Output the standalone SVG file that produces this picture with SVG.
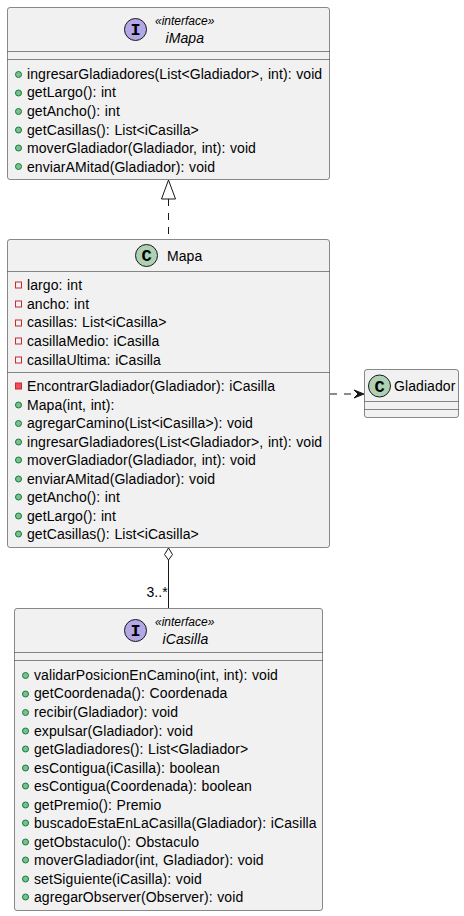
<svg xmlns="http://www.w3.org/2000/svg" width="464" height="916" viewBox="0 0 464 916">
<style>
.box{fill:#F1F1F1;stroke:#181818;stroke-width:.5}
.sep{stroke:#181818;stroke-width:.5}
text{font-family:"Liberation Sans",Arial,sans-serif;font-size:14px;fill:#000;letter-spacing:.08px;word-spacing:.6px}
.it{font-style:italic}
.st{font-style:italic;font-size:12px;letter-spacing:0;word-spacing:0}
.sp{fill:#ADD1B2;stroke:#181818;stroke-width:1}
.si{fill:#B4A7E5;stroke:#181818;stroke-width:1}
.gl{font-family:"Liberation Mono",monospace;font-weight:bold;font-size:17px;text-anchor:middle;letter-spacing:0}
.pub{fill:#84BE84;stroke:#038048;stroke-width:1}
.pri{fill:none;stroke:#C82930;stroke-width:1}
.prm{fill:#F24D5C;stroke:#C82930;stroke-width:1}
.ln{fill:none;stroke:#181818;stroke-width:1}
</style>
<defs>
<circle id="pu" class="pub" r="3"/>
<rect id="pr" class="pri" width="6" height="6"/>
<rect id="pm" class="prm" width="6" height="6"/>
</defs>
<g id="connectors">
<path class="ln" stroke-dasharray="7,7" d="M168.500,199 L168.500,239"/>
<polygon points="168.500,180 161.500,199 175.500,199" fill="none" stroke="#181818"/>
<path class="ln" stroke-dasharray="7,7" d="M330,394 L358,394"/>
<polygon points="364,394 354,390 358,394 354,398" fill="#181818" stroke="#181818"/>
<path class="ln" d="M168.500,608 L168.500,560"/>
<polygon points="168.500,548 164.500,554.500 168.500,560 172.500,554.500" fill="#fff" stroke="#181818"/>
<text x="146.500" y="597">3..*</text>
</g>
<g id="iMapa">
<rect class="box" x="7.500" y="7.500" width="322" height="172" rx="2.500"/>
<circle class="si" cx="135.500" cy="29.500" r="11"/>
<text class="gl" x="135.500" y="35">I</text>
<text class="st" x="155" y="25">«interface»</text>
<text class="it" x="165.500" y="43">iMapa</text>
<path class="sep" d="M7.500,51.500H329.500M7.500,59.500H329.500"/>
<use href="#pu" x="18.500" y="74.500"/><text x="27" y="79">ingresarGladiadores(List&lt;Gladiador&gt;, int): void</text>
<use href="#pu" x="18.500" y="93"/><text x="27" y="97">getLargo(): int</text>
<use href="#pu" x="18.500" y="111.500"/><text x="27" y="116">getAncho(): int</text>
<use href="#pu" x="18.500" y="130"/><text x="27" y="134.500">getCasillas(): List&lt;iCasilla&gt;</text>
<use href="#pu" x="18.500" y="148"/><text x="27" y="153">moverGladiador(Gladiador, int): void</text>
<use href="#pu" x="18.500" y="166.500"/><text x="27" y="171.500">enviarAMitad(Gladiador): void</text>
</g>
<g id="Mapa">
<rect class="box" x="7.500" y="239.500" width="322" height="308" rx="2.500"/>
<circle class="sp" cx="146.500" cy="255.500" r="11"/>
<text class="gl" x="146.500" y="261">C</text>
<text x="167" y="261">Mapa</text>
<path class="sep" d="M7.500,271.500H329.500M7.500,372.500H329.500"/>
<use href="#pr" x="15.500" y="282"/><text x="27" y="290">largo: int</text>
<use href="#pr" x="15.500" y="301"/><text x="27" y="309">ancho: int</text>
<use href="#pr" x="15.500" y="320"/><text x="27" y="327">casillas: List&lt;iCasilla&gt;</text>
<use href="#pr" x="15.500" y="338"/><text x="27" y="346">casillaMedio: iCasilla</text>
<use href="#pr" x="15.500" y="357"/><text x="27" y="365">casillaUltima: iCasilla</text>
<use href="#pm" x="15.500" y="383"/><text x="27" y="391">EncontrarGladiador(Gladiador): iCasilla</text>
<use href="#pu" x="18.500" y="405"/><text x="27" y="410">Mapa(int, int):</text>
<use href="#pu" x="18.500" y="423.500"/><text x="27" y="428">agregarCamino(List&lt;iCasilla&gt;): void</text>
<use href="#pu" x="18.500" y="442"/><text x="27" y="446.500">ingresarGladiadores(List&lt;Gladiador&gt;, int): void</text>
<use href="#pu" x="18.500" y="460"/><text x="27" y="465">moverGladiador(Gladiador, int): void</text>
<use href="#pu" x="18.500" y="479"/><text x="27" y="483.500">enviarAMitad(Gladiador): void</text>
<use href="#pu" x="18.500" y="497"/><text x="27" y="502">getAncho(): int</text>
<use href="#pu" x="18.500" y="516"/><text x="27" y="520.500">getLargo(): int</text>
<use href="#pu" x="18.500" y="534"/><text x="27" y="539">getCasillas(): List&lt;iCasilla&gt;</text>
</g>
<g id="Gladiador">
<rect class="box" x="364.500" y="369.500" width="94" height="48" rx="2.500"/>
<circle class="sp" cx="379.500" cy="386" r="11"/>
<text class="gl" x="379.500" y="391.500">C</text>
<text x="394" y="391">Gladiador</text>
<path class="sep" d="M364.500,401.500H458.500M364.500,409.500H458.500"/>
</g>
<g id="iCasilla">
<rect class="box" x="14.500" y="608.500" width="308" height="302" rx="2.500"/>
<circle class="si" cx="135.500" cy="630.500" r="11"/>
<text class="gl" x="135.500" y="636">I</text>
<text class="st" x="155" y="626">«interface»</text>
<text class="it" x="162.500" y="644">iCasilla</text>
<path class="sep" d="M14.500,652.500H322.500M14.500,660.500H322.500"/>
<use href="#pu" x="25.500" y="675.500"/><text x="34" y="680">validarPosicionEnCamino(int, int): void</text>
<use href="#pu" x="25.500" y="694"/><text x="34" y="698">getCoordenada(): Coordenada</text>
<use href="#pu" x="25.500" y="712.500"/><text x="34" y="717">recibir(Gladiador): void</text>
<use href="#pu" x="25.500" y="731"/><text x="34" y="735.500">expulsar(Gladiador): void</text>
<use href="#pu" x="25.500" y="749"/><text x="34" y="754">getGladiadores(): List&lt;Gladiador&gt;</text>
<use href="#pu" x="25.500" y="768"/><text x="34" y="772.500">esContigua(iCasilla): boolean</text>
<use href="#pu" x="25.500" y="786"/><text x="34" y="791">esContigua(Coordenada): boolean</text>
<use href="#pu" x="25.500" y="805"/><text x="34" y="809.500">getPremio(): Premio</text>
<use href="#pu" x="25.500" y="823"/><text x="34" y="828">buscadoEstaEnLaCasilla(Gladiador): iCasilla</text>
<use href="#pu" x="25.500" y="842"/><text x="34" y="846.500">getObstaculo(): Obstaculo</text>
<use href="#pu" x="25.500" y="860"/><text x="34" y="865">moverGladiador(int, Gladiador): void</text>
<use href="#pu" x="25.500" y="879"/><text x="34" y="883.500">setSiguiente(iCasilla): void</text>
<use href="#pu" x="25.500" y="897"/><text x="34" y="902">agregarObserver(Observer): void</text>
</g>
</svg>
